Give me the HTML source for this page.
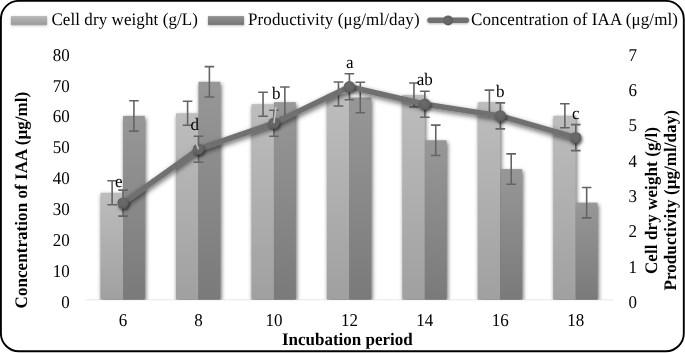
<!DOCTYPE html><html><head><meta charset="utf-8"><style>html,body{margin:0;padding:0;background:#fff;width:685px;height:353px;overflow:hidden}svg{display:block;filter:grayscale(1)}text{font-family:"Liberation Serif", serif;font-size:17px;fill:#000;text-rendering:geometricPrecision}</style></head><body>
<svg width="685" height="353" viewBox="0 0 685 353">
<defs>
<linearGradient id="gl" x1="0" y1="0" x2="0" y2="1"><stop offset="0" stop-color="#bdbdbd"/><stop offset="1" stop-color="#a0a0a0"/></linearGradient>
<linearGradient id="gd" x1="0" y1="0" x2="0" y2="1"><stop offset="0" stop-color="#979797"/><stop offset="1" stop-color="#7a7a7a"/></linearGradient>
<filter id="sh" filterUnits="userSpaceOnUse" x="0" y="0" width="685" height="353"><feDropShadow dx="1" dy="1.8" stdDeviation="1.6" flood-color="#000" flood-opacity="0.55"/></filter><filter id="shl" filterUnits="userSpaceOnUse" x="0" y="0" width="685" height="353"><feDropShadow dx="0.8" dy="2.3" stdDeviation="2.4" flood-color="#000" flood-opacity="0.6"/></filter><radialGradient id="gm" cx="0.45" cy="0.4" r="0.6"><stop offset="0" stop-color="#6a6a6a"/><stop offset="0.75" stop-color="#636363"/><stop offset="1" stop-color="#555"/></radialGradient>
<clipPath id="pc"><rect x="0" y="0" width="685" height="299.75"/></clipPath>
<linearGradient id="gls" x1="0" y1="0" x2="0" y2="1"><stop offset="0" stop-color="#b8b8b8"/><stop offset="1" stop-color="#9b9b9b"/></linearGradient>
<linearGradient id="gds" x1="0" y1="0" x2="0" y2="1"><stop offset="0" stop-color="#929292"/><stop offset="1" stop-color="#737373"/></linearGradient>
<filter id="shs" filterUnits="userSpaceOnUse" x="0" y="0" width="685" height="353"><feDropShadow dx="0" dy="0.8" stdDeviation="0.9" flood-color="#000" flood-opacity="0.3"/></filter>
<filter id="bsh" filterUnits="userSpaceOnUse" x="0" y="0" width="685" height="353"><feGaussianBlur stdDeviation="2.0"/><feOffset dx="1" dy="2"/><feComponentTransfer><feFuncA type="linear" slope="0.62"/></feComponentTransfer></filter>
</defs>
<line x1="85.30" y1="299.75" x2="613.50" y2="299.75" stroke="#f0f0f0" stroke-width="1.5"/>
<g clip-path="url(#pc)">
<g filter="url(#bsh)">
<rect x="100.53" y="192.80" width="22.50" height="106.95"/>
<rect x="123.03" y="115.90" width="21.80" height="183.85"/>
<rect x="175.99" y="113.30" width="22.50" height="186.45"/>
<rect x="198.49" y="81.80" width="21.80" height="217.95"/>
<rect x="251.44" y="104.20" width="22.50" height="195.55"/>
<rect x="273.94" y="102.20" width="21.80" height="197.55"/>
<rect x="326.90" y="94.00" width="22.50" height="205.75"/>
<rect x="349.40" y="97.50" width="21.80" height="202.25"/>
<rect x="402.36" y="95.00" width="22.50" height="204.75"/>
<rect x="424.86" y="140.30" width="21.80" height="159.45"/>
<rect x="477.81" y="102.10" width="22.50" height="197.65"/>
<rect x="500.31" y="169.10" width="21.80" height="130.65"/>
<rect x="553.27" y="115.80" width="22.50" height="183.95"/>
<rect x="575.77" y="202.70" width="21.80" height="97.05"/>
</g>
<rect x="100.53" y="192.80" width="22.50" height="106.95" fill="url(#gl)"/>
<rect x="123.03" y="115.90" width="21.80" height="183.85" fill="url(#gd)"/>
<rect x="175.99" y="113.30" width="22.50" height="186.45" fill="url(#gl)"/>
<rect x="198.49" y="81.80" width="21.80" height="217.95" fill="url(#gd)"/>
<rect x="251.44" y="104.20" width="22.50" height="195.55" fill="url(#gl)"/>
<rect x="273.94" y="102.20" width="21.80" height="197.55" fill="url(#gd)"/>
<rect x="326.90" y="94.00" width="22.50" height="205.75" fill="url(#gl)"/>
<rect x="349.40" y="97.50" width="21.80" height="202.25" fill="url(#gd)"/>
<rect x="402.36" y="95.00" width="22.50" height="204.75" fill="url(#gl)"/>
<rect x="424.86" y="140.30" width="21.80" height="159.45" fill="url(#gd)"/>
<rect x="477.81" y="102.10" width="22.50" height="197.65" fill="url(#gl)"/>
<rect x="500.31" y="169.10" width="21.80" height="130.65" fill="url(#gd)"/>
<rect x="553.27" y="115.80" width="22.50" height="183.95" fill="url(#gl)"/>
<rect x="575.77" y="202.70" width="21.80" height="97.05" fill="url(#gd)"/>
</g>
<path d="M112.13 180.80V204.80M107.33 180.80h9.6M107.33 204.80h9.6" stroke="#646464" stroke-width="1.6" fill="none"/>
<path d="M133.93 100.70V131.10M129.13 100.70h9.6M129.13 131.10h9.6" stroke="#646464" stroke-width="1.6" fill="none"/>
<path d="M187.59 101.30V125.30M182.79 101.30h9.6M182.79 125.30h9.6" stroke="#646464" stroke-width="1.6" fill="none"/>
<path d="M209.39 66.60V97.00M204.59 66.60h9.6M204.59 97.00h9.6" stroke="#646464" stroke-width="1.6" fill="none"/>
<path d="M263.04 92.20V116.20M258.24 92.20h9.6M258.24 116.20h9.6" stroke="#646464" stroke-width="1.6" fill="none"/>
<path d="M284.84 87.00V117.40M280.04 87.00h9.6M280.04 117.40h9.6" stroke="#646464" stroke-width="1.6" fill="none"/>
<path d="M338.50 82.00V106.00M333.70 82.00h9.6M333.70 106.00h9.6" stroke="#646464" stroke-width="1.6" fill="none"/>
<path d="M360.30 82.30V112.70M355.50 82.30h9.6M355.50 112.70h9.6" stroke="#646464" stroke-width="1.6" fill="none"/>
<path d="M413.96 83.00V107.00M409.16 83.00h9.6M409.16 107.00h9.6" stroke="#646464" stroke-width="1.6" fill="none"/>
<path d="M435.76 125.10V155.50M430.96 125.10h9.6M430.96 155.50h9.6" stroke="#646464" stroke-width="1.6" fill="none"/>
<path d="M489.41 90.10V114.10M484.61 90.10h9.6M484.61 114.10h9.6" stroke="#646464" stroke-width="1.6" fill="none"/>
<path d="M511.21 153.90V184.30M506.41 153.90h9.6M506.41 184.30h9.6" stroke="#646464" stroke-width="1.6" fill="none"/>
<path d="M564.87 103.80V127.80M560.07 103.80h9.6M560.07 127.80h9.6" stroke="#646464" stroke-width="1.6" fill="none"/>
<path d="M586.67 187.50V217.90M581.87 187.50h9.6M581.87 217.90h9.6" stroke="#646464" stroke-width="1.6" fill="none"/>
<path d="M123.03 190.10V216.10M118.23 190.10h9.6M118.23 216.10h9.6" stroke="#646464" stroke-width="1.6" fill="none"/>
<path d="M198.49 136.20V162.20M193.69 136.20h9.6M193.69 162.20h9.6" stroke="#646464" stroke-width="1.6" fill="none"/>
<path d="M273.94 110.20V136.20M269.14 110.20h9.6M269.14 136.20h9.6" stroke="#646464" stroke-width="1.6" fill="none"/>
<path d="M349.40 73.70V99.70M344.60 73.70h9.6M344.60 99.70h9.6" stroke="#646464" stroke-width="1.6" fill="none"/>
<path d="M424.86 91.30V117.30M420.06 91.30h9.6M420.06 117.30h9.6" stroke="#646464" stroke-width="1.6" fill="none"/>
<path d="M500.31 102.90V128.90M495.51 102.90h9.6M495.51 128.90h9.6" stroke="#646464" stroke-width="1.6" fill="none"/>
<path d="M575.77 124.60V150.60M570.97 124.60h9.6M570.97 150.60h9.6" stroke="#646464" stroke-width="1.6" fill="none"/>
<polyline points="123.03,203.10 198.49,149.20 273.94,123.20 349.40,86.70 424.86,104.30 500.31,115.90 575.77,137.60" fill="none" stroke="#707070" stroke-width="5.5" stroke-linejoin="round" stroke-linecap="round" filter="url(#shl)"/>
<circle cx="123.03" cy="203.10" r="5.7" fill="url(#gm)" filter="url(#sh)"/>
<circle cx="198.49" cy="149.20" r="5.7" fill="url(#gm)" filter="url(#sh)"/>
<circle cx="273.94" cy="123.20" r="5.7" fill="url(#gm)" filter="url(#sh)"/>
<circle cx="349.40" cy="86.70" r="5.7" fill="url(#gm)" filter="url(#sh)"/>
<circle cx="424.86" cy="104.30" r="5.7" fill="url(#gm)" filter="url(#sh)"/>
<circle cx="500.31" cy="115.90" r="5.7" fill="url(#gm)" filter="url(#sh)"/>
<circle cx="575.77" cy="137.60" r="5.7" fill="url(#gm)" filter="url(#sh)"/>
<line x1="196.3" y1="143.6" x2="198.49" y2="149.20" stroke="#c8c8c8" stroke-width="1.4"/>
<line x1="276.0" y1="106.8" x2="273.94" y2="123.20" stroke="#c8c8c8" stroke-width="1.4"/>
<text transform="translate(115.10,187.20) scale(1,1.035)">e</text>
<text transform="translate(190.50,130.20) scale(1,1.035)">d</text>
<text transform="translate(271.90,99.20) scale(1,1.035)">b</text>
<text transform="translate(345.90,68.40) scale(1,1.035)">a</text>
<text transform="translate(416.70,85.40) scale(1,1.035)">ab</text>
<text transform="translate(496.10,97.00) scale(1,1.035)">b</text>
<text transform="translate(572.10,118.80) scale(1,1.035)">c</text>
<text transform="translate(69.8,307.70) scale(1,1.06)" text-anchor="end">0</text>
<text transform="translate(69.8,276.82) scale(1,1.06)" text-anchor="end">10</text>
<text transform="translate(69.8,245.95) scale(1,1.06)" text-anchor="end">20</text>
<text transform="translate(69.8,215.07) scale(1,1.06)" text-anchor="end">30</text>
<text transform="translate(69.8,184.20) scale(1,1.06)" text-anchor="end">40</text>
<text transform="translate(69.8,153.32) scale(1,1.06)" text-anchor="end">50</text>
<text transform="translate(69.8,122.45) scale(1,1.06)" text-anchor="end">60</text>
<text transform="translate(69.8,91.57) scale(1,1.06)" text-anchor="end">70</text>
<text transform="translate(69.8,60.70) scale(1,1.06)" text-anchor="end">80</text>
<text transform="translate(628.6,307.80) scale(1,1.06)">0</text>
<text transform="translate(628.6,272.51) scale(1,1.06)">1</text>
<text transform="translate(628.6,237.23) scale(1,1.06)">2</text>
<text transform="translate(628.6,201.94) scale(1,1.06)">3</text>
<text transform="translate(628.6,166.66) scale(1,1.06)">4</text>
<text transform="translate(628.6,131.37) scale(1,1.06)">5</text>
<text transform="translate(628.6,96.09) scale(1,1.06)">6</text>
<text transform="translate(628.6,60.80) scale(1,1.06)">7</text>
<text transform="translate(123.03,325.8) scale(1,1.06)" text-anchor="middle">6</text>
<text transform="translate(198.49,325.8) scale(1,1.06)" text-anchor="middle">8</text>
<text transform="translate(273.94,325.8) scale(1,1.06)" text-anchor="middle">10</text>
<text transform="translate(349.40,325.8) scale(1,1.06)" text-anchor="middle">12</text>
<text transform="translate(424.86,325.8) scale(1,1.06)" text-anchor="middle">14</text>
<text transform="translate(500.31,325.8) scale(1,1.06)" text-anchor="middle">16</text>
<text transform="translate(575.77,325.8) scale(1,1.06)" text-anchor="middle">18</text>
<text transform="translate(347.3,344.8) scale(1,1.035)" text-anchor="middle" font-weight="bold">Incubation period</text>
<text transform="translate(26.6,200.1) rotate(-90) scale(1,1.035)" text-anchor="middle" font-weight="bold" textLength="216.6" lengthAdjust="spacing">Concentration of IAA (μg/ml)</text>
<text transform="translate(657,200.6) rotate(-90) scale(1,1.035)" text-anchor="middle" font-weight="bold" textLength="147" lengthAdjust="spacing">Cell dry weight (g/l)</text>
<text transform="translate(676.0,200.3) rotate(-90) scale(1,1.035)" text-anchor="middle" font-weight="bold" textLength="180.4" lengthAdjust="spacing">Productivity (μg/ml/day)</text>
<rect x="11" y="16.1" width="36" height="8.8" fill="url(#gls)" filter="url(#shs)"/>
<text transform="translate(51.4,24.8) scale(1,1.035)" textLength="146.5" lengthAdjust="spacing">Cell dry weight (g/L)</text>
<rect x="208" y="16.1" width="36" height="8.8" fill="url(#gds)" filter="url(#shs)"/>
<text transform="translate(248.0,24.8) scale(1,1.035)" textLength="171.6" lengthAdjust="spacing">Productivity (μg/ml/day)</text>
<line x1="429.9" y1="20.3" x2="466.4" y2="20.3" stroke="#717171" stroke-width="5.4" stroke-linecap="round" filter="url(#shs)"/>
<circle cx="448.1" cy="20.4" r="5.0" fill="url(#gm)"/>
<text transform="translate(471.0,24.8) scale(1,1.035)" textLength="207" lengthAdjust="spacing">Concentration of IAA (μg/ml)</text>
<rect x="0.9" y="0.9" width="682.9" height="350.4" rx="18" ry="18" fill="none" stroke="#000" stroke-width="1.9"/>
</svg></body></html>
